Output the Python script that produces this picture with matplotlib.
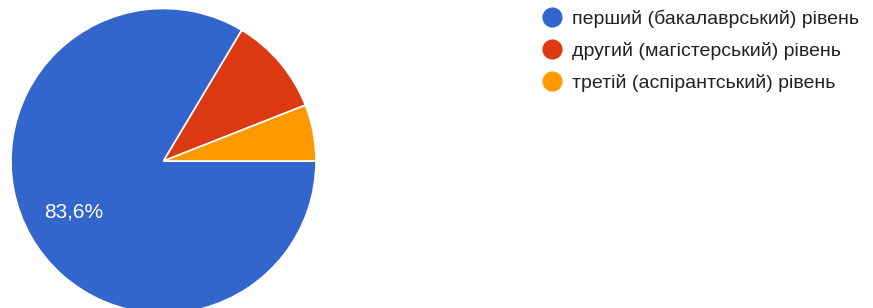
import matplotlib.pyplot as plt
import matplotlib.lines as mlines

plt.rcParams['font.family'] = ['Liberation Sans', 'DejaVu Sans']

labels = ['перший (бакалаврський) рівень',
          'другий (магістерський) рівень',
          'третій (аспірантський) рівень']
counts = [56, 7, 4]
colors = ['#3366cc', '#dc3912', '#ff9900']

fig = plt.figure(figsize=(8.73, 3.08), dpi=100)
W, H = 873, 308
# pie: centre (163.5, 161) px from top-left, radius 152.5 px
cx, cy, r = 163.5, 161, 152.5
ax = fig.add_axes([(cx - r) / W, (H - cy - r) / H, 2 * r / W, 2 * r / H])


def pct(p):
    return f'{p:.1f}%'.replace('.', ',') if p > 20 else ''


wedges, texts, autotexts = ax.pie(
    counts, colors=colors, startangle=0, counterclock=False,
    autopct=pct, pctdistance=0.68, radius=1,
    wedgeprops=dict(edgecolor='white', linewidth=1.2),
    textprops=dict(color='white', fontsize=15))
ax.set_xlim(-1, 1)
ax.set_ylim(-1, 1)
ax.set_aspect('equal')
ax.axis('off')

handles = [mlines.Line2D([], [], linestyle='none', marker='o', markersize=13.5,
                         markerfacecolor=c, markeredgecolor=c) for c in colors]
fig.legend(handles, labels, loc='upper left', bbox_to_anchor=(533 / W, 1 - 0 / H),
           frameon=False, fontsize=14, labelcolor='#222222',
           handletextpad=0.5, labelspacing=0.72, handlelength=1.0, borderpad=0.0)

fig.savefig('out.png', dpi=100)
